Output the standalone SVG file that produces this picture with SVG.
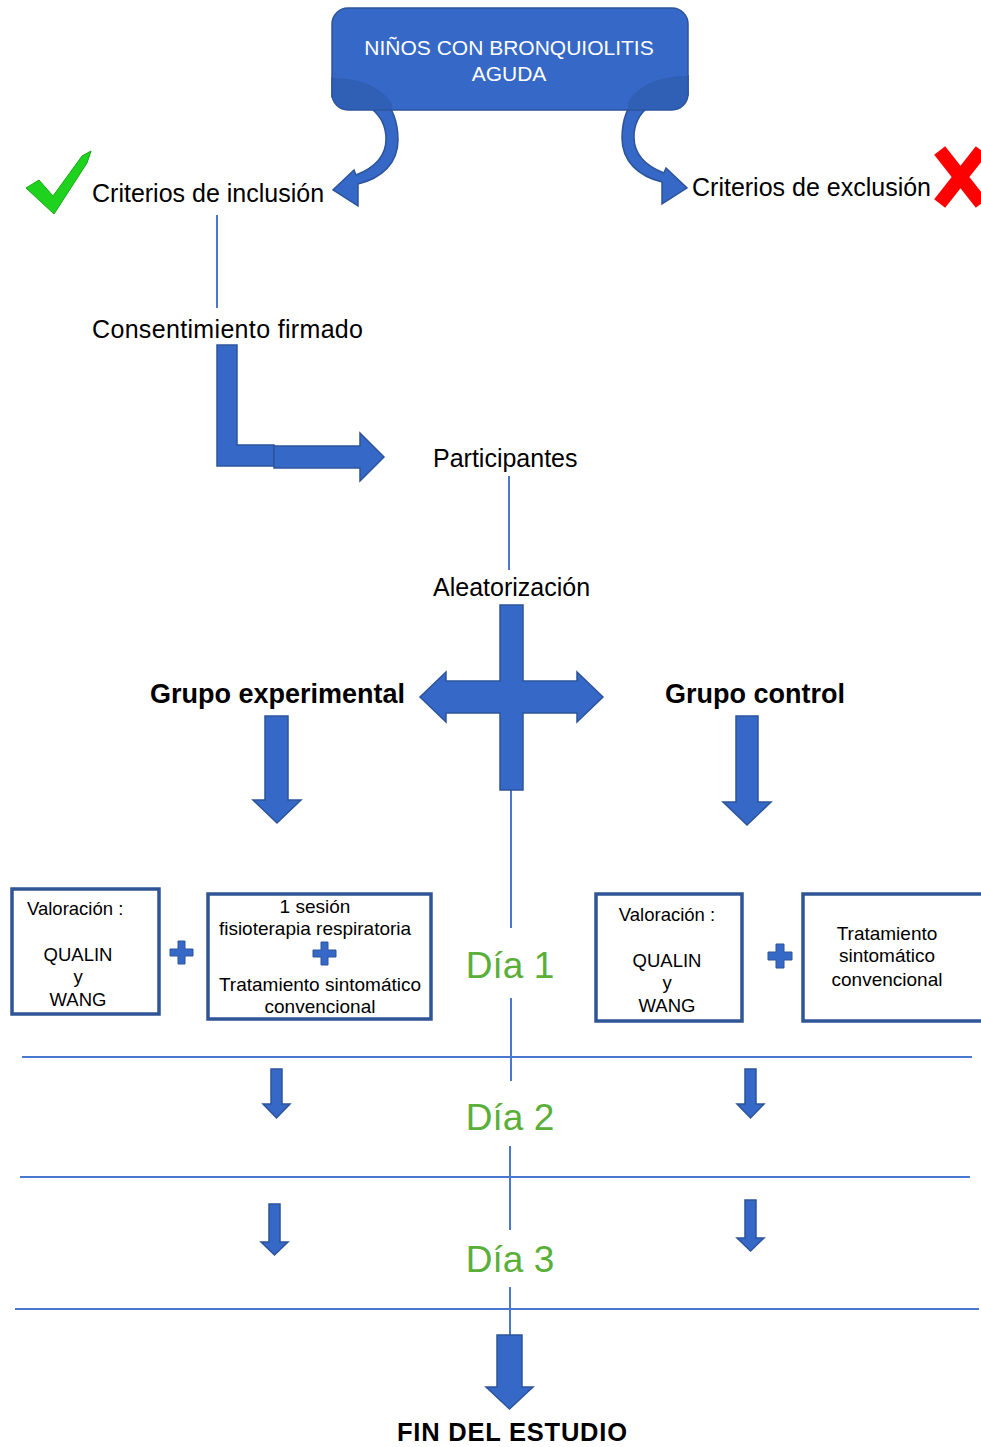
<svg xmlns="http://www.w3.org/2000/svg" width="981" height="1447" viewBox="0 0 981 1447">
<style>
.shape{fill:#3568C7;stroke:#2D549A;stroke-width:1.5}
.line{stroke:#4A78D0;stroke-width:2;fill:none}
.box{fill:#fff;stroke:#2F5597;stroke-width:3.5}
.t{font-family:"Liberation Sans",Arial,sans-serif;fill:#000}
.b{font-family:"Liberation Sans",Arial,sans-serif;font-weight:bold;fill:#000}
.day{font-family:"Liberation Sans",Arial,sans-serif;fill:#5AAF38;font-size:37px}
.plus{fill:#3568C7;stroke:#2D549A;stroke-width:1}
</style>
<defs>
<clipPath id="topclip"><rect x="332" y="8" width="356" height="102" rx="16"/></clipPath>
</defs>
<rect width="981" height="1447" fill="#fff"/>
<g id="connectors">
<path class="line" d="M217,215V308"/>
<path class="line" d="M509,476V570"/>
<path class="line" d="M511,790V928M511,998V1081"/>
<path class="line" d="M510,1146V1230M510,1287V1336"/>
<path class="line" d="M22,1057H972M20,1177H970M15,1309H979"/>
<path class="shape" d="M332,78 C375,78 398,105 398,140 C398,163 382,178 358,184 L358,206 L333,190 L354,170 L356,175 C374,168 386,156 386,139 C386,114 365,97 332,97 Z"/>
<path class="shape" d="M688,76 C645,76 622,103 622,138 C622,161 638,176 662,182 L662,204 L687,188 L666,168 L664,173 C646,166 634,154 634,137 C634,112 655,95 688,95 Z"/>
<path class="shape" d="M217,345H237V445H274V466H217Z"/>
<path class="shape" d="M274,446H360V433L384,457L360,481V468H274Z"/>
<path class="shape" d="M500,605H523V681H577V672L603,697L577,722V713H523V790H500V713H446V722L420,697L446,672V681H500Z"/>
<path class="shape" d="M265,716H288V800H301L277,823L253,800H265Z"/>
<path class="shape" d="M736,716H758V802H771L747,825L723,802H736Z"/>
<path class="shape" d="M271,1069H282V1104H290L276.5,1118L263,1104H271Z"/>
<path class="shape" d="M745,1069H756V1104H764L750.5,1118L737,1104H745Z"/>
<path class="shape" d="M269,1204H280V1242H288L274.5,1255L261,1242H269Z"/>
<path class="shape" d="M745,1200H756V1238H764L750.5,1251L737,1238H745Z"/>
<path class="shape" d="M497,1335H522V1387H533L509.5,1409L486,1387H497Z"/>
</g>
<g id="top">
<rect x="332" y="8" width="356" height="102" rx="16" class="shape"/>
<g clip-path="url(#topclip)">
<path d="M332,78 C362,78 382,88 392,104 L392,110 L332,110 Z" fill="#2C58A8" opacity="0.55"/>
<path d="M688,76 C658,76 638,86 628,102 L628,110 L688,110 Z" fill="#2C58A8" opacity="0.55"/>
</g>
<text class="t" x="509" y="55" font-size="21" text-anchor="middle" style="fill:#fff">NIÑOS CON BRONQUIOLITIS</text>
<text class="t" x="509" y="81" font-size="21" text-anchor="middle" style="fill:#fff">AGUDA</text>
</g>
<g id="inclusion">
<polygon points="26,188 39,180 53,196 82,156 91,151 87,163 54,214" fill="#1ED21E" stroke="#17A817" stroke-width="1"/>
<text class="t" x="92" y="202" font-size="25">Criterios de inclusión</text>
</g>
<g id="exclusion">
<text class="t" x="692" y="196" font-size="25">Criterios de exclusión</text>
<path d="M944,156L977,198M977,156L944,198" stroke="#FF0000" stroke-width="14" stroke-linecap="square"/>
</g>
<g id="consentimiento"><text class="t" x="92" y="338" font-size="25" textLength="271">Consentimiento firmado</text></g>
<g id="participantes"><text class="t" x="433" y="467" font-size="25">Participantes</text></g>
<g id="aleatorizacion"><text class="t" x="433" y="596" font-size="25">Aleatorización</text></g>
<g id="grupo-exp"><text class="b" x="150" y="703" font-size="27">Grupo experimental</text></g>
<g id="grupo-ctrl"><text class="b" x="665" y="703" font-size="27">Grupo control</text></g>
<g id="val-exp">
<rect x="12" y="889" width="147" height="125" class="box"/>
<text class="t" x="27" y="915" font-size="18.5">Valoración :</text>
<text class="t" x="78" y="961" font-size="18.5" text-anchor="middle">QUALIN</text>
<text class="t" x="78" y="983" font-size="18.5" text-anchor="middle">y</text>
<text class="t" x="78" y="1006" font-size="18.5" text-anchor="middle">WANG</text>
</g>
<path class="plus" d="M178,941H185V949H193V956H185V964H178V956H170V949H178Z"/>
<g id="trat-exp">
<rect x="208" y="894" width="223" height="125" class="box"/>
<text class="t" x="315" y="913" font-size="19" text-anchor="middle">1 sesión</text>
<text class="t" x="315" y="935" font-size="19" text-anchor="middle">fisioterapia respiratoria</text>
<path class="plus" d="M321,942H328V950H336V957H328V965H321V957H313V950H321Z"/>
<text class="t" x="320" y="991" font-size="19" text-anchor="middle">Tratamiento sintomático</text>
<text class="t" x="320" y="1013" font-size="19" text-anchor="middle">convencional</text>
</g>
<g id="val-ctrl">
<rect x="596" y="894" width="146" height="127" class="box"/>
<text class="t" x="667" y="921" font-size="18.5" text-anchor="middle">Valoración :</text>
<text class="t" x="667" y="967" font-size="18.5" text-anchor="middle">QUALIN</text>
<text class="t" x="667" y="989" font-size="18.5" text-anchor="middle">y</text>
<text class="t" x="667" y="1012" font-size="18.5" text-anchor="middle">WANG</text>
</g>
<path class="plus" d="M776,944H784V952H792V960H784V968H776V960H768V952H776Z"/>
<g id="trat-ctrl">
<rect x="803" y="894" width="182" height="127" class="box"/>
<text class="t" x="887" y="940" font-size="19" text-anchor="middle">Tratamiento</text>
<text class="t" x="887" y="962" font-size="19" text-anchor="middle">sintomático</text>
<text class="t" x="887" y="986" font-size="19" text-anchor="middle">convencional</text>
</g>
<g id="dia1"><text class="day" x="510" y="978" text-anchor="middle">Día 1</text></g>
<g id="dia2"><text class="day" x="510" y="1130" text-anchor="middle">Día 2</text></g>
<g id="dia3"><text class="day" x="510" y="1272" text-anchor="middle">Día 3</text></g>
<g id="fin"><text class="b" x="512" y="1441" font-size="25.5" text-anchor="middle" textLength="230">FIN DEL ESTUDIO</text></g>
</svg>
